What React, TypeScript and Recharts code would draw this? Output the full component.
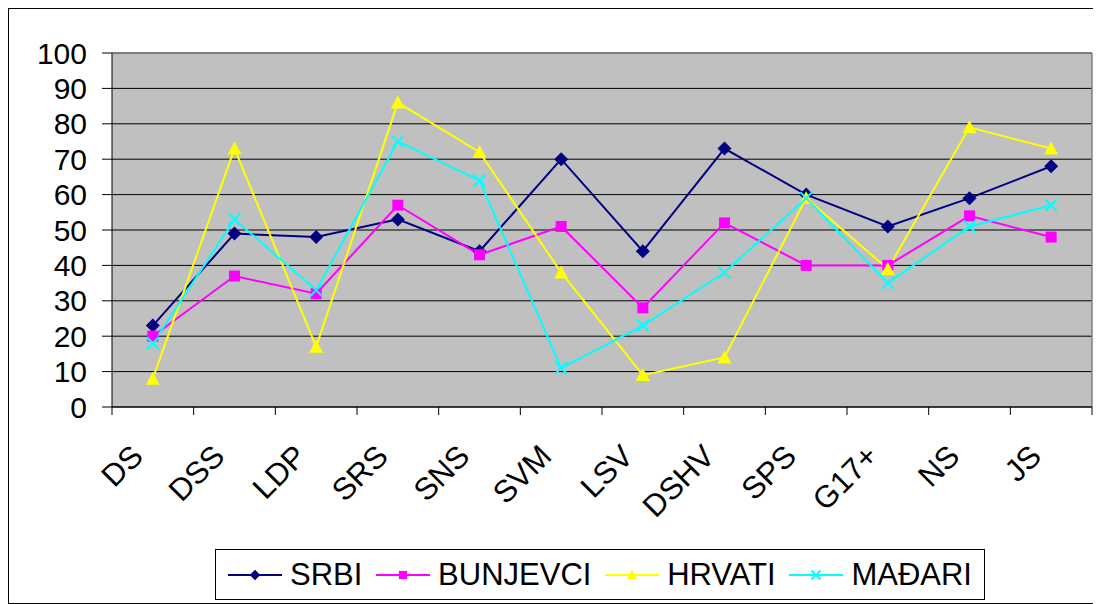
import React from 'react';
import { LineChart, Line, XAxis, YAxis, CartesianGrid, Legend, ReferenceLine } from 'recharts';

const parties = ['DS', 'DSS', 'LDP', 'SRS', 'SNS', 'SVM', 'LSV', 'DSHV', 'SPS', 'G17+', 'NS', 'JS'];
const srbi = [23, 49, 48, 53, 44, 70, 44, 73, 60, 51, 59, 68];
const bunjevci = [20, 37, 32, 57, 43, 51, 28, 52, 40, 40, 54, 48];
const hrvati = [8, 73, 17, 86, 72, 38, 9, 14, 59, 39, 79, 73];
const madari = [18, 53, 33, 75, 64, 11, 23, 38, 59, 35, 51, 57];
const yTicks = [0, 10, 20, 30, 40, 50, 60, 70, 80, 90, 100];
const xTicks = [0, 1, 2, 3, 4, 5, 6, 7, 8, 9, 10, 11, 12];

const FONT = '"Liberation Sans", Arial, sans-serif';
const W = 1090;
const H = 594;
const M = { top: 44, right: 7, bottom: 0, left: 0 };
const Y_W = 103;
const BAND = (W - M.left - M.right - Y_W) / parties.length;

// categories sit in the middle of each band, Excel style (ticks between)
const data = parties.map((p, i) => ({
  party: p,
  pos: i + 0.5,
  srbi: srbi[i],
  bunjevci: bunjevci[i],
  hrvati: hrvati[i],
  madari: madari[i],
}));

type Shape = 'diamond' | 'square' | 'triangle' | 'cross';

const Marker = ({ shape, color, cx, cy, s }: { shape: Shape; color: string; cx: number; cy: number; s: number }) => {
  if (shape === 'diamond') {
    return <polygon points={`${cx},${cy - s} ${cx + s},${cy} ${cx},${cy + s} ${cx - s},${cy}`} fill={color} />;
  }
  if (shape === 'square') {
    return <rect x={cx - s} y={cy - s} width={s * 2} height={s * 2} fill={color} />;
  }
  if (shape === 'triangle') {
    return <polygon points={`${cx},${cy - s} ${cx + s},${cy + s * 0.85} ${cx - s},${cy + s * 0.85}`} fill={color} />;
  }
  return (
    <g stroke={color} strokeWidth={2}>
      <line x1={cx - s} y1={cy - s} x2={cx + s} y2={cy + s} />
      <line x1={cx - s} y1={cy + s} x2={cx + s} y2={cy - s} />
    </g>
  );
};

const series: { key: string; name: string; color: string; shape: Shape; size: number }[] = [
  { key: 'srbi', name: 'SRBI', color: '#000080', shape: 'diamond', size: 7 },
  { key: 'bunjevci', name: 'BUNJEVCI', color: '#FF00FF', shape: 'square', size: 5.5 },
  { key: 'hrvati', name: 'HRVATI', color: '#FFFF00', shape: 'triangle', size: 7 },
  { key: 'madari', name: 'MAĐARI', color: '#00FFFF', shape: 'cross', size: 6 },
];

const PartyTick = ({ x, y, payload }: any) => {
  const v = payload.value;
  if (v >= parties.length) return <g />;
  const ax = x + BAND / 2 - 8;
  const ay = y + 41;
  return (
    <text x={ax} y={ay} transform={`rotate(-45 ${ax} ${ay})`} textAnchor="end" fontSize={31} fontFamily={FONT} fill="#000">
      {parties[v]}
    </text>
  );
};

const LegendBox = () => (
  <div
    style={{
      boxSizing: 'border-box',
      width: 770,
      height: 51,
      border: '1px solid #000',
      background: '#fff',
      display: 'flex',
      alignItems: 'center',
      justifyContent: 'space-between',
      padding: '0 12px',
      fontFamily: FONT,
      fontSize: 31,
      color: '#000',
    }}
  >
    {series.map((s) => (
      <div key={s.key} style={{ display: 'flex', alignItems: 'center', gap: 8 }}>
        <svg width={54} height={20}>
          <line x1={0} y1={10} x2={54} y2={10} stroke={s.color} strokeWidth={2} />
          <Marker shape={s.shape} color={s.color} cx={27} cy={10} s={s.size * 0.75} />
        </svg>
        <span>{s.name}</span>
      </div>
    ))}
  </div>
);

export default function App() {
  return (
    <div style={{ width: W, height: H, border: '1px solid #000', background: '#fff' }}>
      <LineChart width={W} height={H} data={data} margin={M}>
        <CartesianGrid vertical={false} stroke="#000" fill="#C0C0C0" fillOpacity={1} />
        <XAxis
          type="number"
          dataKey="pos"
          domain={[0, 12]}
          ticks={xTicks}
          interval={0}
          height={196}
          tickSize={8}
          axisLine={{ stroke: '#000' }}
          tickLine={{ stroke: '#000' }}
          tick={<PartyTick />}
        />
        <YAxis
          domain={[0, 100]}
          ticks={yTicks}
          interval={0}
          width={Y_W}
          tickSize={10}
          tickMargin={15}
          axisLine={{ stroke: '#000' }}
          tickLine={{ stroke: '#000' }}
          tick={{ fontSize: 30, fontFamily: FONT, fill: '#000' }}
        />
        <ReferenceLine y={100} stroke="#808080" strokeWidth={1.5} />
        <ReferenceLine x={12} stroke="#808080" strokeWidth={1.5} />
        {series.map((s) => (
          <Line
            key={s.key}
            type="linear"
            dataKey={s.key}
            name={s.name}
            stroke={s.color}
            strokeWidth={2}
            isAnimationActive={false}
            dot={(p: any) => <Marker key={`${s.key}-${p.index}`} shape={s.shape} color={s.color} cx={p.cx} cy={p.cy} s={s.size} />}
            activeDot={false}
          />
        ))}
        <Legend
          layout="horizontal"
          verticalAlign="middle"
          align="center"
          wrapperStyle={{ left: 206, top: 540, width: 770, height: 51 }}
          content={<LegendBox />}
        />
      </LineChart>
    </div>
  );
}
